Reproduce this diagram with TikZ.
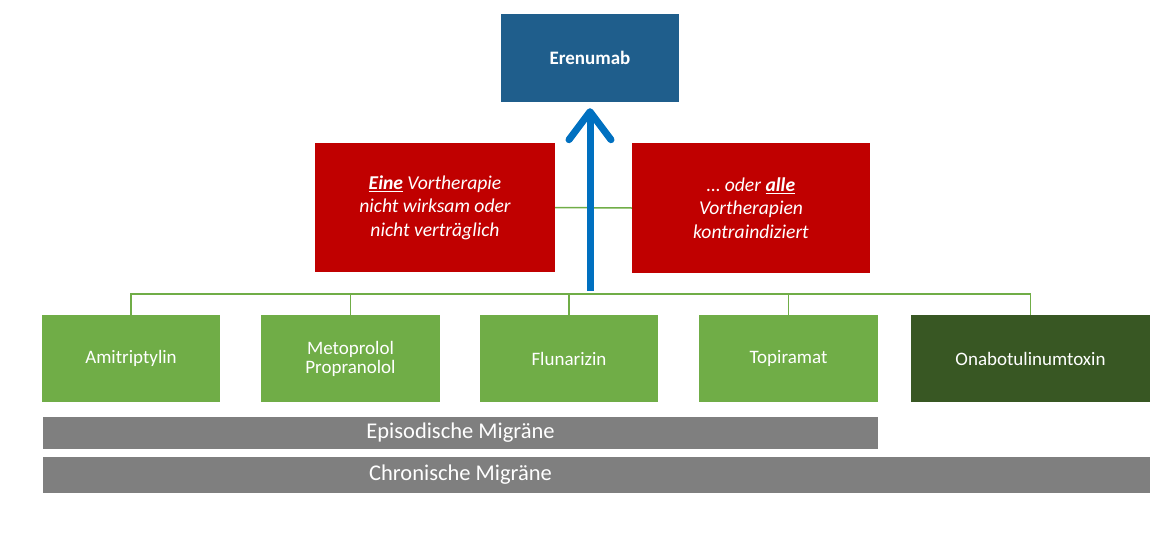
\documentclass[tikz,border=0pt]{standalone}
\usepackage{fontspec}
\setmainfont{Carlito}
\usepackage{tikz}
\usetikzlibrary{positioning,arrows.meta}

\definecolor{erenblue}{RGB}{31,94,140}
\definecolor{arrowblue}{RGB}{0,112,192}
\definecolor{therared}{RGB}{192,0,0}
\definecolor{lightgreen}{RGB}{112,173,71}
\definecolor{darkgreen}{RGB}{56,87,35}
\definecolor{bargrey}{RGB}{127,127,127}

\begin{document}
\begin{tikzpicture}[
	x=1pt,y=-1pt,
	box/.style={
		draw=none,
		text=white,
		align=center,
		inner sep=0pt,
		font=\fontsize{19}{19}\selectfont
	},
	target/.style={
		box,
		fill=erenblue,
		minimum width=178pt,
		minimum height=88pt,
		font=\fontsize{19}{19}\selectfont\bfseries
	},
	cond/.style={
		box,
		fill=therared,
		minimum width=240pt,
		minimum height=129pt,
		font=\fontsize{19.6}{23.5}\selectfont\itshape
	},
	drug/.style={
		box,
		fill=lightgreen,
		minimum width=178pt,
		minimum height=87pt
	},
	bar/.style={
		draw=none,
		fill=bargrey,
		inner sep=0pt
	},
	bartext/.style={
		text=white,
		inner sep=0pt,
		font=\fontsize{22.5}{22.5}\selectfont
	},
	conn/.style={
		draw=lightgreen,
		line width=1.5pt
	},
	uparrow/.style={
		draw=arrowblue,
		line width=7pt,
		-{Straight Barb[length=28pt,width=42pt,round]}
	}
	]
	\useasboundingbox (0,0) rectangle (1158,543);
	% target
	\node[target] (eren) at (590,58) {Erenumab};
	% conditions
	\node[cond] (eine) at (435,207.5) {\underline{\textbf{Eine}} Vortherapie\\nicht wirksam oder\\nicht verträglich};
	\node[cond,minimum width=238pt,minimum height=130pt] (alle) at (751,208) {\dots{} oder \underline{\textbf{alle}}\\Vortherapien\\kontraindiziert};
	% prophylactics
	\node[drug] (ami) at (131,358.5) {Amitriptylin};
	\node[drug,minimum width=179pt] (meto) at (350.5,358.5) {Metoprolol\\[0pt]Propranolol};
	\node[drug] (flun) at (569,358.5) {Flunarizin};
	\node[drug,minimum width=179pt] (topi) at (788.5,358.5) {Topiramat};
	\node[drug,fill=darkgreen,minimum width=239pt] (ona) at (1030.5,358.5) {Onabotulinumtoxin};
	% indications
	\node[bar,minimum width=835pt,minimum height=32pt] (epi) at (460.5,433) {};
	\node[bartext] (epitext) at (epi.center) {Episodische Migräne};
	\node[bar,minimum width=1107pt,minimum height=36pt] (chron) at (596.5,475) {};
	\node[bartext] (chrontext) at (460.5,475) {Chronische Migräne};
	% connectors
	\draw[conn] (ami.north) -- ++(0,-21) -| (ona.north);
	\foreach \d in {meto,flun,topi}
	\draw[conn] (\d.north) -- ++(0,-21);
	\draw[conn] (eine.east) -- (alle.west);
	\coordinate (base) at (590,291);
	\draw[uparrow] (base) -- ([yshift=-6pt]eren.south);
\end{tikzpicture}
\end{document}
